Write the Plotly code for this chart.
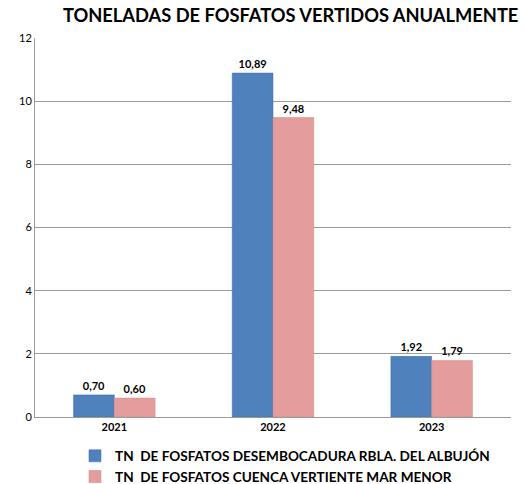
import plotly.graph_objects as go

years = ["2021", "2022", "2023"]
albujon = [0.70, 10.89, 1.92]
cuenca = [0.60, 9.48, 1.79]
series_names = ["TN  DE FOSFATOS DESEMBOCADURA RBLA. DEL ALBUJÓN",
                "TN  DE FOSFATOS CUENCA VERTIENTE MAR MENOR"]
y_ticks = [0, 2, 4, 6, 8, 10, 12]

def lab(vals):
    return [f"{v:.2f}".replace(".", ",") for v in vals]

FONT = "Lato, Open Sans, sans-serif"

fig = go.Figure()
fig.add_trace(go.Bar(x=years, y=albujon, name=series_names[0],
                     marker=dict(color="#4F81BD", line=dict(color="#3f6fa8", width=0.5)),
                     text=lab(albujon), textposition="outside", cliponaxis=False,
                     textfont=dict(family=FONT, size=11, color="black", weight="bold")))
fig.add_trace(go.Bar(x=years, y=cuenca, name=series_names[1],
                     marker=dict(color="#E59C9C", line=dict(color="#d08888", width=0.5)),
                     text=lab(cuenca), textposition="outside", cliponaxis=False,
                     textfont=dict(family=FONT, size=11, color="black", weight="bold")))

fig.update_layout(
    width=524, height=484, autosize=False,
    margin=dict(l=35, r=13, t=38, b=67, autoexpand=False),
    paper_bgcolor="white", plot_bgcolor="white",
    barmode="group", bargap=0.486, bargroupgap=0,
    title=dict(text="<b>TONELADAS DE FOSFATOS VERTIDOS ANUALMENTE</b>",
               x=0.12, xanchor="left", y=0.967, yanchor="middle",
               font=dict(family=FONT, size=18.3, color="black")),
    showlegend=True,
    legend=dict(x=0.084, xanchor="left", y=-0.062, yanchor="top",
                font=dict(family=FONT, size=13.6, color="black", weight="bold"),
                tracegroupgap=0, itemwidth=30, bgcolor="rgba(0,0,0,0)"),
    xaxis=dict(showline=True, linecolor="#9a9a9a", linewidth=1,
               tickfont=dict(family=FONT, size=11, color="black", weight="bold"),
               ticks="", showgrid=False),
    yaxis=dict(range=[0, 12], tickvals=y_ticks, showline=True, linecolor="#9a9a9a",
               linewidth=1, showgrid=True, gridcolor="#9a9a9a", gridwidth=1,
               tickfont=dict(family=FONT, size=11, color="black"),
               ticks="", zeroline=False),
)

fig.write_html("out.html", config={"displayModeBar": False},
               post_script="document.body.style.margin='0';document.body.style.overflow='hidden';")
